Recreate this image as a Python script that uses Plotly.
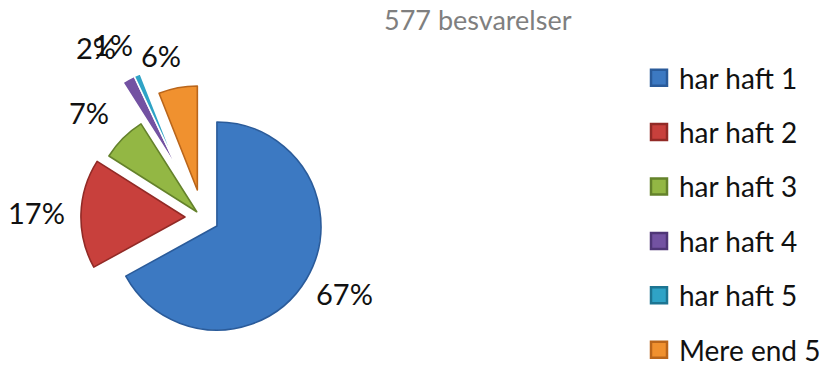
import math
import plotly.graph_objects as go

# Survey answers (577 responses), share in percent per category
CATEGORIES = ["har haft 1", "har haft 2", "har haft 3", "har haft 4", "har haft 5", "Mere end 5"]
SHARES = [67, 17, 7, 2, 1, 6]
TITLE = "577 besvarelser"

# Slice styling
FILL = ["#3C79C2", "#C8403C", "#93B744", "#7352A2", "#2FA3C6", "#F0912F"]
EDGE = ["#2A5B9A", "#922A26", "#64822B", "#4F3677", "#1D7592", "#BA661B"]
PULL = [0.16, 0.17, 0.08, 0.51, 0.51, 0.27]
DETACHED = [3, 4]          # thin wedges drawn on their own pie layer
LABEL_NUDGE = [(-3, -2), (3, 0), (-7, -3), (-13, -4), (-12, 1), (-10, 0)]

W, H = 831, 365
CX, CY, R = 202.6, 217.6, 104.0
FONT = "Lato"
CLEAR = "rgba(0,0,0,0)"


def px_x(x):
    return x / W


def px_y(y):
    return 1 - y / H


total = sum(SHARES)
starts, mids = [], []
acc = 0.0
for v in SHARES:
    starts.append(acc / total * 360)
    mids.append((acc + v / 2) / total * 360)
    acc += v


def direction(deg):
    a = math.radians(deg)
    return math.sin(a), -math.cos(a)


fig = go.Figure()

# main layer: every slice except the detached thin ones
main_pull = [0 if i in DETACHED else p for i, p in enumerate(PULL)]
max_pull = max(main_pull)
half = R * (1 + max_pull)
fig.add_trace(go.Pie(
    labels=CATEGORIES, values=SHARES, sort=False, direction="clockwise", rotation=0,
    pull=main_pull, textinfo="none", hoverinfo="label+percent", showlegend=False,
    marker=dict(
        colors=[CLEAR if i in DETACHED else c for i, c in enumerate(FILL)],
        line=dict(color=[CLEAR if i in DETACHED else c for i, c in enumerate(EDGE)],
                  width=[0 if i in DETACHED else 1.6 for i in range(len(SHARES))]),
    ),
    domain=dict(x=[px_x(CX - half), px_x(CX + half)], y=[px_y(CY + half), px_y(CY - half)]),
))

# detached layer: thin wedges pushed further out from the centre
d_start = starts[DETACHED[0]]
d_end = starts[DETACHED[-1]] + SHARES[DETACHED[-1]] / total * 360
ddx, ddy = direction((d_start + d_end) / 2)
shift = PULL[DETACHED[0]] * R
cx2, cy2 = CX + shift * ddx, CY + shift * ddy
fig.add_trace(go.Pie(
    labels=CATEGORIES, values=SHARES, sort=False, direction="clockwise", rotation=0,
    textinfo="none", hoverinfo="label+percent", showlegend=False,
    marker=dict(
        colors=[c if i in DETACHED else CLEAR for i, c in enumerate(FILL)],
        line=dict(color=["white" if i in DETACHED else CLEAR for i in range(len(SHARES))],
                  width=[1.6 if i in DETACHED else 0 for i in range(len(SHARES))]),
    ),
    domain=dict(x=[px_x(cx2 - R), px_x(cx2 + R)], y=[px_y(cy2 + R), px_y(cy2 - R)]),
))

# legend entries
for i, name in enumerate(CATEGORIES):
    fig.add_trace(go.Scatter(
        x=[None], y=[None], mode="markers", name=name, legendgroup=f"g{i}",
        marker=dict(symbol="square", size=16, color=FILL[i], line=dict(color=EDGE[i], width=2.5)),
    ))

# percentage labels outside each slice
annotations = []
for i, v in enumerate(SHARES):
    dx, dy = direction(mids[i])
    text = f"{v / total:.0%}"
    w = 19 * (len(text) - 1) + 17
    h = 25
    dist = R * (1 + PULL[i]) + 20
    x = CX + dist * dx + dx * w / 2 + LABEL_NUDGE[i][0]
    y = CY + dist * dy + dy * h / 2 + LABEL_NUDGE[i][1]
    annotations.append(dict(
        x=px_x(x), y=px_y(y), xref="paper", yref="paper", text=text, showarrow=False,
        xanchor="center", yanchor="middle", font=dict(family=FONT, size=29, color="#111111"),
    ))

annotations.append(dict(
    x=px_x(477.5), y=px_y(19), xref="paper", yref="paper", text=TITLE, showarrow=False,
    xanchor="center", yanchor="middle", font=dict(family=FONT, size=27, color="#7F7F7F"),
))

fig.update_layout(
    width=W, height=H,
    margin=dict(l=0, r=0, t=0, b=0, pad=0, autoexpand=False),
    paper_bgcolor="white", plot_bgcolor="white",
    xaxis=dict(visible=False), yaxis=dict(visible=False),
    annotations=annotations,
    legend=dict(
        x=px_x(639), y=px_y(53), xanchor="left", yanchor="top",
        traceorder="grouped", tracegroupgap=15, itemsizing="trace",
        font=dict(family=FONT, size=28, color="#111111"),
        bgcolor=CLEAR, borderwidth=0,
    ),
)

fig.write_html("out.html")
